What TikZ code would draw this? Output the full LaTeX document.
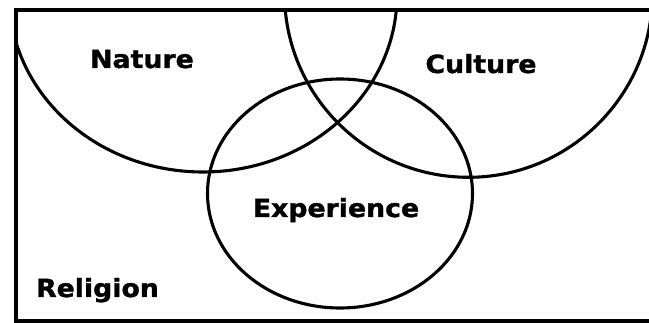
\documentclass[tikz,border=0pt]{standalone}
\usepackage{fontspec}
\setmainfont{DejaVu Sans}
\newfontfamily\heavyfont{DejaVu Sans Bold}[FakeBold=1.2]
\begin{document}
\begin{tikzpicture}[x=1pt,y=-1pt,
  lbl/.style={font=\fontsize{25}{30}\heavyfont, inner sep=0pt, xscale=1.07, anchor=base},
  ring/.style={line width=3.1pt},
  frameline/.style={line width=4pt}]
\useasboundingbox (0,0) rectangle (649,323);
\fill[white] (0,0) rectangle (649,323);
\begin{scope}
  \clip (16,10) rectangle (649,321);
  \draw[ring] (203,-5) ellipse [x radius=194, y radius=177];
  \draw[ring] (468.5,-6.7) circle [radius=184];
  \draw[ring] (340,193.5) ellipse [x radius=132.5, y radius=114.5];
\end{scope}
\coordinate (tr) at (649,10);
\coordinate (tl) at (16,10);
\coordinate (bl) at (16,321);
\coordinate (br) at (649,321);
\draw[frameline] (tr) -- (tl) -- (bl) -- (br);
\node[lbl] (nature) at (142,68) {Nature};
\node[lbl] (culture) at (481,73) {Culture};
\node[lbl] (experience) at (336,217) {Experience};
\node[lbl] (religion) at (97.5,297) {Religion};
\end{tikzpicture}
\end{document}
